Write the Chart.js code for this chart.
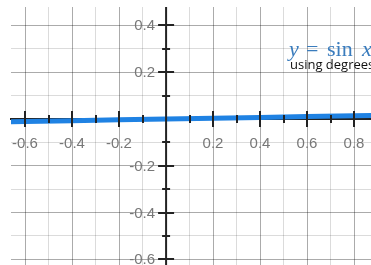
<!DOCTYPE html>
<html>
<head>
<meta charset="utf-8">
<script src="https://cdn.jsdelivr.net/npm/chart.js@4"></script>
<style>
  html, body { margin: 0; padding: 0; background: #fff; overflow: hidden; }
  canvas { display: block; }
</style>
</head>
<body>
<canvas id="sinChart" width="371" height="265"></canvas>
<script>
// values (y = sin x, x in degrees, so nearly flat)
const xValues = [-0.7, -0.6, -0.4, -0.2, 0, 0.2, 0.4, 0.6, 0.8, 0.9];
const yValues = [-0.0122, -0.0105, -0.007, -0.0035, 0, 0.0035, 0.007, 0.0105, 0.014, 0.0157];
const xRange = [-0.66, 0.872];
const yRange = [-0.624, 0.479];
const gridStep = 0.1;
const titleText = ['y', '=', 'sin', 'x'];
const noteText = 'using degrees';

function isMajor(v) {
  return Math.abs(Math.round(v * 10)) % 2 === 0;
}
function tickLabel(v) {
  if (Math.abs(v) < 1e-9 || !isMajor(v)) return '';
  return v.toFixed(1);
}
function gridColor(c) {
  return isMajor(c.tick.value) ? 'rgba(0,0,0,0.33)' : 'rgba(0,0,0,0.14)';
}

const points = xValues.map((x, i) => ({x: x, y: yValues[i]}));

//axis line, crossing tick marks, tick labels and the text notes
const axisMarks = {
  id: 'axisMarks',
  afterDatasetsDraw(chart) {
    const ctx = chart.ctx, area = chart.chartArea;
    const xs = chart.scales.x, ys = chart.scales.y;
    const x0 = xs.getPixelForValue(0), y0 = ys.getPixelForValue(0);
    ctx.save();
    ctx.strokeStyle = '#222';
    ctx.lineWidth = 2;
    ctx.beginPath();
    ctx.moveTo(x0, area.top);
    ctx.lineTo(x0, area.bottom);
    ctx.stroke();

    ctx.font = '15px "Liberation Sans"';
    ctx.fillStyle = '#777';
    ctx.textBaseline = 'middle';
    xs.ticks.forEach(function(t) {
      if (Math.abs(t.value) < 1e-9) return;
      const px = Math.round(xs.getPixelForValue(t.value));
      const len = isMajor(t.value) ? 8 : 4;
      ctx.beginPath();
      ctx.moveTo(px, y0 - len);
      ctx.lineTo(px, y0 + len);
      ctx.stroke();
      ctx.textAlign = 'center';
      ctx.fillText(tickLabel(t.value), px, y0 + 25);
    });
    ys.ticks.forEach(function(t) {
      if (Math.abs(t.value) < 1e-9) return;
      const py = Math.round(ys.getPixelForValue(t.value));
      const len = isMajor(t.value) ? 8 : 4;
      ctx.beginPath();
      ctx.moveTo(x0 - len, py);
      ctx.lineTo(x0 + len, py);
      ctx.stroke();
      ctx.textAlign = 'right';
      ctx.fillText(tickLabel(t.value), x0 - 11, py + 1);
    });

    // y = sin x
    const ax = xs.getPixelForValue(0.523), ay = ys.getPixelForValue(0.27);
    ctx.textAlign = 'left';
    ctx.fillStyle = '#3a7cbd';
    ctx.textBaseline = 'alphabetic';
    ctx.font = 'italic 22px "Liberation Serif"';
    ctx.fillText(titleText[0], ax, ay);
    ctx.font = '22px "Liberation Serif"';
    ctx.fillText(titleText[1], ax + 17, ay);
    ctx.fillText(titleText[2], ax + 38, ay);
    ctx.font = 'italic 22px "Liberation Serif"';
    ctx.fillText(titleText[3], ax + 73, ay);

    ctx.fillStyle = '#111';
    ctx.font = '13px "Open Sans"';
    ctx.fillText(noteText, ax + 1, ay + 13);
    ctx.restore();
  }
};

const sinChart = new Chart(document.getElementById('sinChart'), {
  type: 'scatter',
  data: {
    datasets: [{
      data: points,
      showLine: true,
      borderColor: '#1f82e3',
      borderWidth: 5,
      pointRadius: 0,
      tension: 0
    }]
  },
  options: {
    responsive: false,
    animation: false,
    layout: { padding: { left: 11, top: 7, right: 0, bottom: 0 } },
    plugins: { legend: { display: false }, tooltip: { enabled: false } },
    scales: {
      x: {
        type: 'linear',
        min: xRange[0],
        max: xRange[1],
        position: { y: 0 },
        grid: { color: gridColor, lineWidth: 1, drawTicks: false },
        border: { display: true, color: '#222', width: 2 },
        ticks: { stepSize: gridStep, includeBounds: false, display: false }
      },
      y: {
        type: 'linear',
        min: yRange[0],
        max: yRange[1],
        position: { x: 0 },
        grid: { color: gridColor, lineWidth: 1, drawTicks: false },
        border: { display: false },
        ticks: { stepSize: gridStep, includeBounds: false, display: false }
      }
    }
  },
  plugins: [axisMarks]
});
</script>
</body>
</html>
